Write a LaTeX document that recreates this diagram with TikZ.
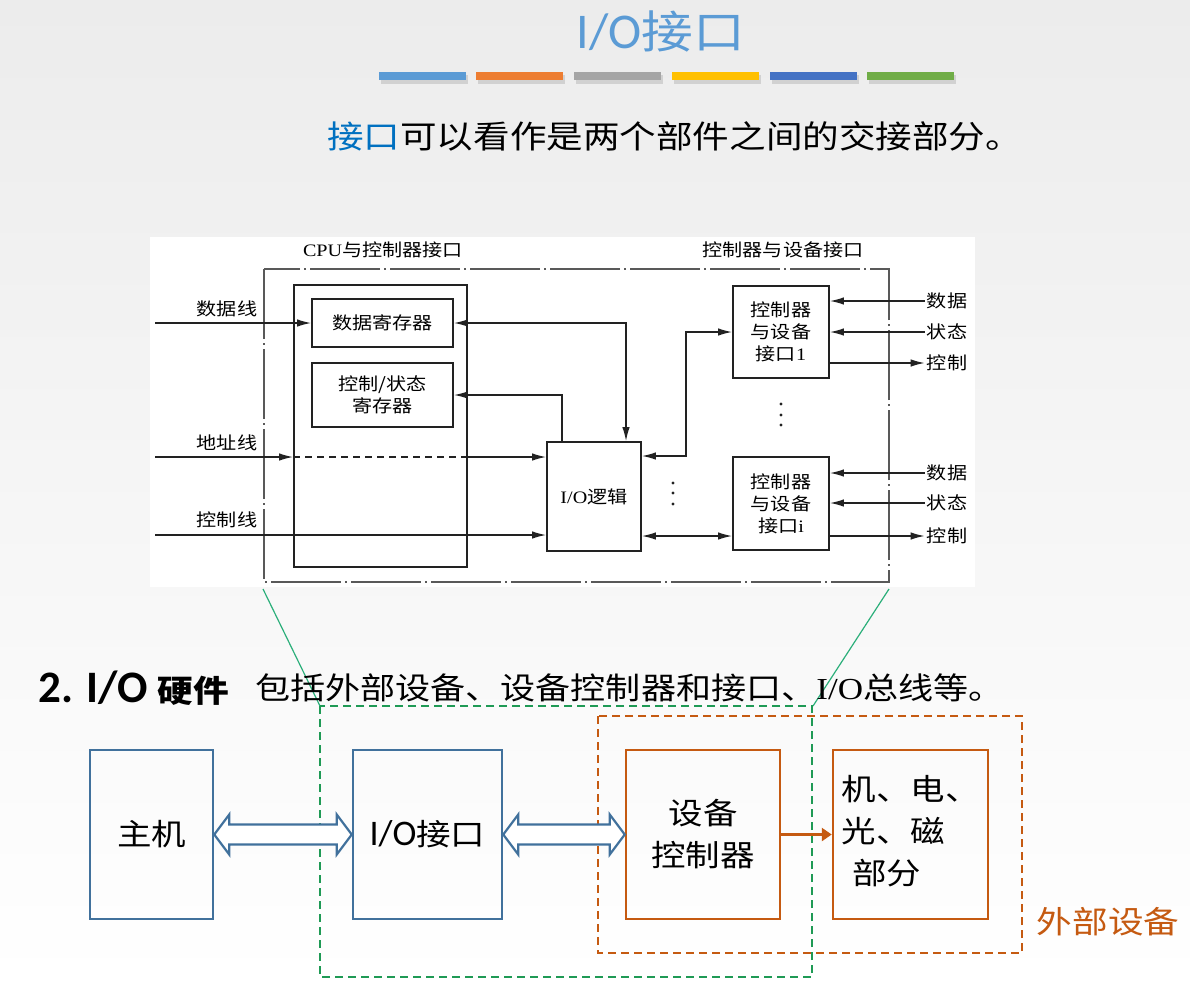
\documentclass[tikz,border=0pt]{standalone}
\usepackage{fontspec}
\setmainfont[FakeStretch=1.15]{Noto Sans CJK SC}
\newfontfamily\cjk[FakeStretch=1.15]{Noto Sans CJK SC}
\newfontfamily\tnr[FakeStretch=1.15]{Liberation Serif}
\newfontfamily\calfont{Carlito}
\usetikzlibrary{arrows.meta,calc}

\definecolor{titleblue}{HTML}{5B9BD5}
\definecolor{keyblue}{HTML}{0070C0}
\definecolor{barA}{HTML}{5B9BD5}
\definecolor{barB}{HTML}{ED7D31}
\definecolor{barC}{HTML}{A5A5A5}
\definecolor{barD}{HTML}{FFC000}
\definecolor{barE}{HTML}{4472C4}
\definecolor{barF}{HTML}{70AD47}
\definecolor{boxblue}{HTML}{41719C}
\definecolor{boxorange}{HTML}{C55A11}
\definecolor{dashgreen}{HTML}{1F9A55}
\definecolor{thingreen}{HTML}{2BAF7A}
\definecolor{ink}{HTML}{222222}

\newcommand\insetfont{\fontsize{17.5}{22}\selectfont\cjk}
\newcommand\slidefont{\fontsize{30}{42}\selectfont\cjk}
% hollow double-headed arrow between two anchors on the same level
\newcommand\hollowarrow[2]{%
  \draw[dblarrow] (#1) -- ($(#1)+(15,-20)$) -- ($(#1)+(15,-10)$) -- ($(#2)+(-15,-10)$)
    -- ($(#2)+(-15,-20)$) -- (#2) -- ($(#2)+(-15,20)$) -- ($(#2)+(-15,10)$)
    -- ($(#1)+(15,10)$) -- ($(#1)+(15,20)$) -- cycle;}

\begin{document}
\begin{tikzpicture}[x=1pt,y=-1pt,
  regbox/.style={draw=ink, line width=1.8pt, inner sep=0pt, align=center, font=\insetfont},
  lbl/.style={inner sep=2pt, font=\insetfont},
  sig/.style={draw=ink, line width=1.4pt, -{Latex[length=14pt,width=7.5pt]}},
  sigboth/.style={draw=ink, line width=1.4pt, {Latex[length=14pt,width=7.5pt]}-{Latex[length=14pt,width=7.5pt]}},
  frameline/.style={draw=black!65, line width=1.2pt, dash pattern=on 70pt off 4pt on 2pt off 4pt},
  bluebox/.style={draw=boxblue, line width=2.5pt, minimum height=169pt, inner sep=0pt, align=center, font=\slidefont},
  orangebox/.style={draw=boxorange, line width=2.5pt, minimum height=169pt, inner sep=0pt, align=center, font=\slidefont},
  dblarrow/.style={draw=boxblue, fill=white, line width=2.2pt, line join=miter},
  groupbox/.style={line width=2.2pt, dash pattern=on 8pt off 5pt}
]
\useasboundingbox (0,0) rectangle (1190,983);

% slide background
\shade[top color={rgb,255:red,236;green,236;blue,236}, bottom color=white] (0,0) rectangle (1190,983);

% title and colour bars
\node[text=titleblue, inner sep=0pt] (title) at (661,31)
  {{\fontsize{50}{56}\selectfont\calfont I/O}{\fontsize{45}{56}\selectfont 接口}};
\foreach \x/\c in {379/barA,476/barB,574/barC,672/barD,770/barE,867/barF}{
  \fill[black!18] (\x+2,75) rectangle (\x+89,84);
  \fill[\c] (\x,72) rectangle (\x+87,80);
}
\node[anchor=west, inner sep=0pt, font=\fontsize{31.8}{40}\selectfont] (sub) at (327,136)
  {\textcolor{keyblue}{接口}可以看作是两个部件之间的交接部分。};

% ---------- interface structure ----------
\fill[white] (150,237) rectangle (975,587);
\node[font=\insetfont] (hdl) at (383,250) {{\tnr CPU}与控制器接口};
\node[font=\insetfont] (hdr) at (783,250) {控制器与设备接口};
\draw[frameline] (264,269) rectangle (889,582);

\node[regbox, minimum width=173pt, minimum height=282pt] (big) at (380.5,426) {};
\node[regbox, minimum width=141pt, minimum height=48pt] (dreg) at (382.5,323) {数据寄存器};
\node[regbox, minimum width=141pt, minimum height=64pt] (creg) at (382.5,395) {控制/状态\\寄存器};
\node[regbox, minimum width=94pt, minimum height=109pt] (iol) at (594,496.5) {{\tnr I/O}逻辑};
\node[regbox, minimum width=96pt, minimum height=92pt] (if1) at (781,332) {控制器\\与设备\\接口{\tnr 1}};
\node[regbox, minimum width=96pt, minimum height=93pt] (ifi) at (781,503.5) {控制器\\与设备\\接口{\tnr i}};

% bus lines on the CPU side
\node[lbl] (ldata) at (227,309) {数据线};
\node[lbl] (laddr) at (227,443) {地址线};
\node[lbl] (lctrl) at (227,520) {控制线};
\coordinate (dl) at (155,323);
\coordinate (al) at (155,457);
\coordinate (cl) at (155,535);
\draw[sig] (dl) -- (dreg.west);
\draw[sig] (al) -- (big.west |- al);
\draw[draw=ink, line width=1.4pt, dash pattern=on 7pt off 5pt] (big.west |- al) -- (big.east |- al);
\draw[sig] (big.east |- al) -- (iol.west |- al);
\draw[sig] (cl) -- (iol.west |- cl);

% internal connections
\coordinate (p1) at (626,0);
\coordinate (p2) at (562,0);
\draw[sigboth] (dreg.east) -| (iol.north -| p1);
\draw[sig] (iol.north -| p2) |- (creg.east);
\coordinate (b1) at (686,456);
\draw[sigboth] (iol.east |- b1) -- (b1) |- (if1.west);
\coordinate (b2) at (0,536);
\draw[sigboth] (iol.east |- b2) -- (ifi.west |- b2);

% ellipses
\foreach \y in {483,493,504}{\fill[ink] (673,\y) circle (1.6);}
\foreach \y in {404,415,425}{\fill[ink] (781,\y) circle (1.6);}

% device side signals
\node[lbl] (d1) at (947,301) {数据};
\node[lbl] (s1) at (947,332) {状态};
\node[lbl] (c1) at (947,363) {控制};
\node[lbl] (d2) at (947,473) {数据};
\node[lbl] (s2) at (947,503) {状态};
\node[lbl] (c2) at (947,536) {控制};
\draw[sig] (d1.west) -- (if1.east |- d1.west);
\draw[sig] (s1.west) -- (if1.east |- s1.west);
\draw[sig] (if1.east |- c1.west) -- (c1.west);
\draw[sig] (d2.west) -- (ifi.east |- d2.west);
\draw[sig] (s2.west) -- (ifi.east |- s2.west);
\draw[sig] (ifi.east |- c2.west) -- (c2.west);

% zoom guide lines
\coordinate (g1) at (263,589);
\coordinate (g2) at (889,589);
\coordinate (g3) at (320,706);
\coordinate (g4) at (813,706);
\draw[thingreen, line width=1.2pt] (g1) -- (g3);
\draw[thingreen, line width=1.2pt] (g2) -- (g4);

% ---------- I/O hardware ----------
\node[anchor=west, inner sep=0pt] (hw) at (38,688)
  {{\fontsize{45}{50}\selectfont\calfont\bfseries 2. I/O}\hspace{9pt}{\fontsize{31}{40}\selectfont\bfseries 硬件}};
\node[anchor=west, inner sep=0pt, font=\fontsize{30.5}{40}\selectfont] (hwdesc) at (255,688)
  {包括外部设备、设备控制器和接口、{\tnr I/O}总线等。};

\draw[groupbox, boxorange] (598,716) rectangle (1022,953);
\draw[groupbox, dashgreen] (320,706) rectangle (812,977);

\node[bluebox, minimum width=123pt] (host) at (151.5,834.5) {主机};
\node[bluebox, minimum width=149pt] (ioi) at (427.5,834.5) {{\fontsize{36}{42}\selectfont\calfont I/O}接口};
\node[orangebox, minimum width=154pt] (devc) at (703,834.5) {设备\\控制器};
\node[orangebox, minimum width=155pt] (mech) at (910.5,834.5) {\begin{tabular}{@{}l@{}}机、电、\\光、磁\\\hspace{0.35em}部分\end{tabular}};

\hollowarrow{host.east}{ioi.west}
\hollowarrow{ioi.east}{devc.west}
\draw[boxorange, line width=3pt, -{Triangle[length=10pt,width=13pt]}] (devc.east) -- (mech.west);

\node[font=\fontsize{31}{40}\selectfont, text=boxorange] (ext) at (1108,922) {外部设备};
\end{tikzpicture}
\end{document}
